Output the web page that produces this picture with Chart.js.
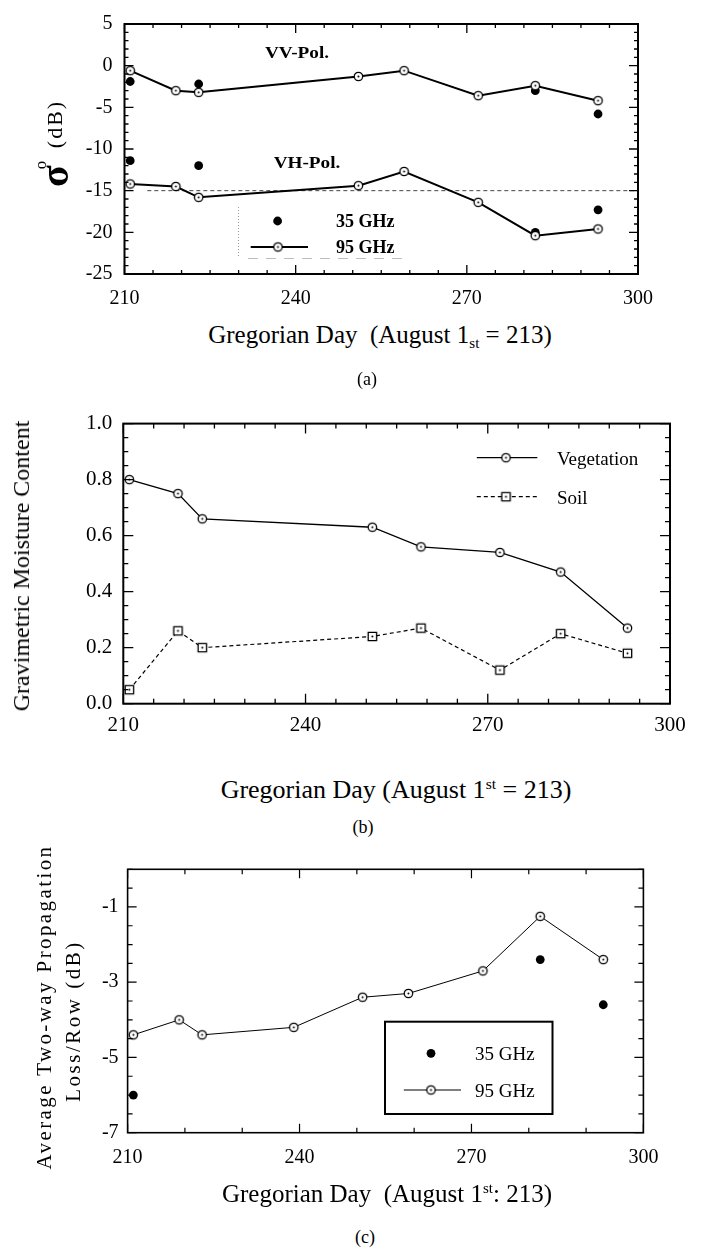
<!DOCTYPE html>
<html>
<head>
<meta charset="utf-8">
<script src="https://cdn.jsdelivr.net/npm/chart.js@4.4.1/dist/chart.umd.min.js"></script>
<style>
  html, body { margin: 0; padding: 0; background: #fff; }
  body {
    width: 702px; height: 1247px; position: relative; overflow: hidden;
    font-family: "Liberation Serif", "Times New Roman", serif; color: #000;
  }
  canvas { position: absolute; left: 0; }
  .t { position: absolute; line-height: 1; white-space: nowrap; transform: translate(-50%, -50%); }
  .tl { position: absolute; line-height: 1; white-space: nowrap; transform: translateY(-50%); }
  .rot { position: absolute; line-height: 1; white-space: nowrap; transform: translate(-50%, -50%) rotate(-90deg); }
  .sub { font-size: 0.6em; position: relative; top: 0.35em; }
  .sup { font-size: 0.6em; position: relative; top: -0.6em; }
  .bold { font-weight: bold; }
</style>
</head>
<body>
<canvas id="backscatterChart" width="702" height="320" style="top:0px"></canvas>
<canvas id="moistureChart" width="702" height="340" style="top:400px"></canvas>
<canvas id="lossChart" width="702" height="340" style="top:840px"></canvas>

<!-- (a) backscatter -->
<div class="rot bold" style="left:55px; top:176px; font-size:40px;">σ</div>
<div class="rot" style="left:40px; top:165px; font-size:17px;">o</div>
<div class="rot" style="left:55px; top:124px; font-size:22px; letter-spacing:2px;">(dB)</div>
<div class="t bold" style="left:297px; top:53px; font-size:16px; transform:translate(-50%,-50%) scaleX(1.2);">VV-Pol.</div>
<div class="t bold" style="left:307px; top:163px; font-size:16px; transform:translate(-50%,-50%) scaleX(1.2);">VH-Pol.</div>
<div class="tl bold" style="left:336px; top:221px; font-size:18px;">35 GHz</div>
<div class="tl bold" style="left:336px; top:247px; font-size:18px;">95 GHz</div>
<div class="t" style="left:380px; top:334px; font-size:25px;">Gregorian Day&nbsp;&nbsp;(August 1<span class="sub">st</span> = 213)</div>
<div class="t" style="left:367px; top:379px; font-size:18px;">(a)</div>

<!-- (b) moisture -->
<div class="rot" style="left:21px; top:566px; font-size:24px;">Gravimetric Moisture Content</div>
<div class="tl" style="left:557px; top:458px; font-size:19px;">Vegetation</div>
<div class="tl" style="left:557px; top:497px; font-size:19px;">Soil</div>
<div class="t" style="left:396px; top:790px; font-size:26px;">Gregorian Day (August 1<span class="sup">st</span> = 213)</div>
<div class="t" style="left:363px; top:827px; font-size:18px;">(b)</div>

<!-- (c) propagation loss -->
<div class="rot" style="left:44px; top:1007px; font-size:21px; letter-spacing:2.4px;">Average Two-way Propagation</div>
<div class="rot" style="left:73px; top:1021px; font-size:21px; letter-spacing:2.5px;">Loss/Row (dB)</div>
<div class="tl" style="left:475px; top:1053px; font-size:19px;">35 GHz</div>
<div class="tl" style="left:475px; top:1090px; font-size:19px;">95 GHz</div>
<div class="t" style="left:387px; top:1193px; font-size:25px;">Gregorian Day&nbsp;&nbsp;(August 1<span class="sup">st</span>: 213)</div>
<div class="t" style="left:365px; top:1237px; font-size:18px;">(c)</div>

<script>
// day axis shared by all three panels
const dayTicks = [210, 240, 270, 300];
const sampleDays = [211, 219, 223, 251, 259, 272, 282, 293];
const days35 = [211, 223, 282, 293];

// (a) backscatter, dB
const sigmaTicks = [-25, -20, -15, -10, -5, 0, 5];
const vv95 = [-0.6, -3.0, -3.2, -1.3, -0.6, -3.6, -2.4, -4.2];
const vv35 = [-1.9, -2.2, -3.0, -5.8];
const vh95 = [-14.2, -14.5, -15.8, -14.4, -12.7, -16.4, -20.4, -19.6];
const vh35 = [-11.4, -12.0, -20.0, -17.3];
const floorDays = [214, 300];
const floorLevel = -15;

// (b) gravimetric moisture
const moistureTicks = [0, 0.2, 0.4, 0.6, 0.8, 1.0];
const vegetation = [0.80, 0.75, 0.66, 0.63, 0.56, 0.54, 0.47, 0.27];
const soil = [0.05, 0.26, 0.20, 0.24, 0.27, 0.12, 0.25, 0.18];

// (c) two-way propagation loss, dB
const lossTicks = [-7, -5, -3, -1];
const lossDays95 = [211, 219, 223, 239, 251, 259, 272, 282, 293];
const loss95 = [-4.4, -4.0, -4.4, -4.2, -3.4, -3.3, -2.7, -1.25, -2.4];
const lossDays35 = [211, 282, 293];
const loss35 = [-6.0, -2.4, -3.6];

const toPoints = (xs, ys) => xs.map((x, i) => ({ x: x, y: ys[i] }));

// open marker with a dot in the middle
function markerImage(shape, r) {
  const size = Math.ceil(r * 2 + 4);
  const c = document.createElement("canvas");
  c.width = size;
  c.height = size;
  const g = c.getContext("2d");
  const m = size / 2;
  g.beginPath();
  if (shape === "square") g.rect(m - r, m - r, r * 2, r * 2);
  else g.arc(m, m, r, 0, Math.PI * 2);
  g.fillStyle = "#fff";
  g.fill();
  g.lineWidth = 1.3;
  g.strokeStyle = "#000";
  g.stroke();
  g.beginPath();
  g.arc(m, m, 1, 0, Math.PI * 2);
  g.fillStyle = "#000";
  g.fill();
  return c;
}

const ring = markerImage("circle", 4.2);
const box = markerImage("square", 4.2);

// inward ticks on all four sides plus the frame
function frameTicks(cfg) {
  return {
    id: "frameTicks",
    afterDraw(chart) {
      const { ctx, chartArea: a } = chart;
      const x = chart.scales.x;
      const y = chart.scales.y;
      const isMajor = (scale, v) => scale.ticks.some((t) => Math.abs(t.value - v) < 1e-6);
      ctx.save();
      ctx.strokeStyle = "#000";
      ctx.lineWidth = cfg.tickWidth;
      ctx.beginPath();
      const nx = Math.round((x.max - x.min) / cfg.xStep);
      for (let i = 0; i <= nx; i++) {
        const v = x.min + i * cfg.xStep;
        const px = x.getPixelForValue(v);
        const len = isMajor(x, v) ? cfg.major : cfg.minor;
        ctx.moveTo(px, a.bottom);
        ctx.lineTo(px, a.bottom - len);
        ctx.moveTo(px, a.top);
        ctx.lineTo(px, a.top + len);
      }
      const ny = Math.round((y.max - y.min) / cfg.yStep);
      for (let i = 0; i <= ny; i++) {
        const v = y.min + i * cfg.yStep;
        const py = y.getPixelForValue(v);
        const len = isMajor(y, v) ? cfg.major : cfg.minor;
        ctx.moveTo(a.left, py);
        ctx.lineTo(a.left + len, py);
        ctx.moveTo(a.right, py);
        ctx.lineTo(a.right - len, py);
      }
      ctx.stroke();
      ctx.lineWidth = cfg.frameWidth;
      ctx.strokeRect(a.left, a.top, a.right - a.left, a.bottom - a.top);
      ctx.restore();
    },
  };
}

function drawRing(ctx, img, x, y) {
  ctx.drawImage(img, x - img.width / 2, y - img.height / 2);
}

function drawDot(ctx, x, y, r) {
  ctx.beginPath();
  ctx.arc(x, y, r, 0, Math.PI * 2);
  ctx.fillStyle = "#000";
  ctx.fill();
}

function drawSegment(ctx, x1, x2, y, width, dash) {
  ctx.beginPath();
  ctx.setLineDash(dash || []);
  ctx.lineWidth = width;
  ctx.strokeStyle = "#000";
  ctx.moveTo(x1, y);
  ctx.lineTo(x2, y);
  ctx.stroke();
  ctx.setLineDash([]);
}

// shared options; layout pins the plot area to fixed pixels
function baseOptions(layout, xTicks, yTicks, fontSize, pad, yFormat) {
  return {
    responsive: false,
    animation: false,
    events: [],
    layout: { padding: { left: 0, top: layout.top, right: layout.right, bottom: 0 } },
    plugins: { legend: { display: false }, tooltip: { enabled: false } },
    scales: {
      x: {
        type: "linear",
        min: xTicks[0],
        max: xTicks[xTicks.length - 1],
        afterBuildTicks: (scale) => { scale.ticks = xTicks.map((v) => ({ value: v })); },
        afterFit: (scale) => { scale.height = layout.xHeight; },
        grid: { display: false, drawTicks: false },
        border: { display: false },
        ticks: { color: "#000", padding: pad.x, maxRotation: 0, font: { family: "Liberation Serif", size: fontSize } },
      },
      y: {
        type: "linear",
        min: layout.yMin,
        max: layout.yMax,
        afterBuildTicks: (scale) => { scale.ticks = yTicks.map((v) => ({ value: v })); },
        afterFit: (scale) => { scale.width = layout.yWidth; },
        grid: { display: false, drawTicks: false },
        border: { display: false },
        ticks: {
          color: "#000",
          padding: pad.y,
          font: { family: "Liberation Serif", size: fontSize },
          callback: yFormat || ((v) => String(v)),
        },
      },
    },
  };
}

function renderBackscatterChart() {
  const canvas = document.getElementById("backscatterChart");
  if (!canvas) {
    console.error("Canvas for backscatter chart not found!");
    return;
  }

  const legend = {
    id: "legendA",
    afterDraw(chart) {
      const ctx = chart.ctx;
      ctx.save();
      // faint remains of the legend box
      ctx.strokeStyle = "#9a9a9a";
      ctx.lineWidth = 1;
      ctx.setLineDash([1, 2]);
      ctx.beginPath();
      ctx.moveTo(238.5, 207);
      ctx.lineTo(238.5, 258);
      ctx.stroke();
      ctx.strokeStyle = "#bdbdbd";
      ctx.setLineDash([10, 8]);
      ctx.beginPath();
      ctx.moveTo(248, 258.5);
      ctx.lineTo(405, 258.5);
      ctx.stroke();
      ctx.setLineDash([]);
      drawDot(ctx, 277.6, 221, 4.4);
      drawSegment(ctx, 250.7, 308, 247, 2);
      drawRing(ctx, ring, 278, 247);
      ctx.restore();
    },
  };

  new Chart(canvas, {
    type: "line",
    data: {
      datasets: [
        { data: toPoints(sampleDays, vv95), borderColor: "#000", borderWidth: 2, pointStyle: ring, pointRadius: 4, order: 0 },
        { data: toPoints(sampleDays, vh95), borderColor: "#000", borderWidth: 2, pointStyle: ring, pointRadius: 4, order: 0 },
        { data: toPoints(days35, vv35), showLine: false, pointStyle: "circle", pointRadius: 4.4, pointBackgroundColor: "#000", pointBorderWidth: 0, order: 1 },
        { data: toPoints(days35, vh35), showLine: false, pointStyle: "circle", pointRadius: 4.4, pointBackgroundColor: "#000", pointBorderWidth: 0, order: 1 },
        {
          data: toPoints(floorDays, floorDays.map(() => floorLevel)),
          borderColor: "#444", borderWidth: 1, borderDash: [4, 3], pointRadius: 0, order: 2,
        },
      ],
    },
    options: baseOptions(
      { top: 12.7, right: 64, xHeight: 46, yWidth: 124.5, yMin: -25, yMax: 5 },
      dayTicks, sigmaTicks, 20, { x: 13, y: 12 }
    ),
    plugins: [frameTicks({ xStep: 5, yStep: 1, major: 9, minor: 4, tickWidth: 1.3, frameWidth: 2 }), legend],
  });
}

function renderMoistureChart() {
  const canvas = document.getElementById("moistureChart");
  if (!canvas) {
    console.error("Canvas for moisture chart not found!");
    return;
  }

  const legend = {
    id: "legendB",
    afterDraw(chart) {
      const ctx = chart.ctx;
      ctx.save();
      drawSegment(ctx, 476.8, 537.3, 57.7, 1.3);
      drawRing(ctx, ring, 506, 57.7);
      drawSegment(ctx, 476.8, 537.3, 96.7, 1.2, [4, 3]);
      drawRing(ctx, box, 506, 96.7);
      ctx.restore();
    },
  };

  new Chart(canvas, {
    type: "line",
    data: {
      datasets: [
        { data: toPoints(sampleDays, vegetation), borderColor: "#000", borderWidth: 1.3, pointStyle: ring, pointRadius: 4 },
        { data: toPoints(sampleDays, soil), borderColor: "#000", borderWidth: 1.2, borderDash: [4, 3], pointStyle: box, pointRadius: 4 },
      ],
    },
    options: baseOptions(
      { top: 23.5, right: 32, xHeight: 36.3, yWidth: 123.3, yMin: 0, yMax: 1 },
      dayTicks, moistureTicks, 21, { x: 9, y: 11 }, (v) => v.toFixed(1)
    ),
    plugins: [frameTicks({ xStep: 5, yStep: 0.05, major: 10, minor: 5, tickWidth: 1.3, frameWidth: 2 }), legend],
  });
}

function renderLossChart() {
  const canvas = document.getElementById("lossChart");
  if (!canvas) {
    console.error("Canvas for loss chart not found!");
    return;
  }

  const legend = {
    id: "legendC",
    afterDraw(chart) {
      const ctx = chart.ctx;
      ctx.save();
      ctx.strokeStyle = "#000";
      ctx.lineWidth = 2;
      ctx.strokeRect(385, 181.7, 167.5, 92.3);
      drawDot(ctx, 431, 213.3, 4.4);
      drawSegment(ctx, 403.8, 461, 250, 1);
      drawRing(ctx, ring, 431, 250);
      ctx.restore();
    },
  };

  new Chart(canvas, {
    type: "line",
    data: {
      datasets: [
        { data: toPoints(lossDays95, loss95), borderColor: "#000", borderWidth: 1, pointStyle: ring, pointRadius: 4, order: 0 },
        { data: toPoints(lossDays35, loss35), showLine: false, pointStyle: "circle", pointRadius: 4.4, pointBackgroundColor: "#000", pointBorderWidth: 0, order: 1 },
      ],
    },
    options: baseOptions(
      { top: 29.3, right: 58.6, xHeight: 47.3, yWidth: 127.6, yMin: -7, yMax: 0 },
      dayTicks, lossTicks, 20, { x: 13, y: 9 }
    ),
    plugins: [frameTicks({ xStep: 10, yStep: 0.5, major: 9, minor: 5, tickWidth: 1.2, frameWidth: 1.6 }), legend],
  });
}

renderBackscatterChart();
renderMoistureChart();
renderLossChart();
</script>
</body>
</html>
